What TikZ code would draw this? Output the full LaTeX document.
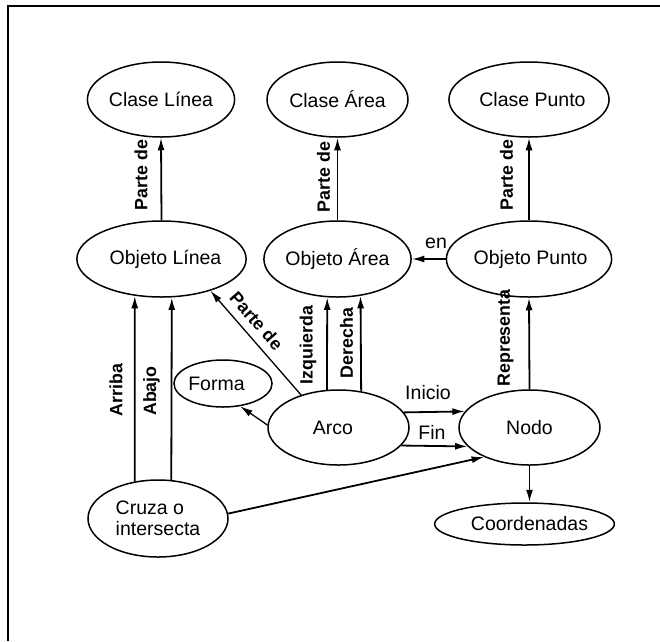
\documentclass[tikz,border=0pt]{standalone}
\usepackage{fontspec}
\setmainfont{Liberation Sans}
\usetikzlibrary{shapes.geometric,arrows.meta}

\begin{document}
\begin{tikzpicture}[x=1pt,y=-1pt,
  ell/.style={ellipse,draw,line width=1.5pt,inner sep=0pt,
    font=\fontsize{19.5}{20.5}\selectfont},
  arr/.style={line width=1.8pt,-{Latex[length=12.5pt,width=7pt]}},
  thinarr/.style={line width=1.3pt,-{Latex[length=12.5pt,width=7pt]}},
  rlab/.style={font=\bfseries\fontsize{17.8}{18}\selectfont,inner sep=0pt},
  nlab/.style={font=\fontsize{19.5}{20.5}\selectfont,inner sep=0pt}]

\useasboundingbox (0,0) rectangle (660,641);

% frame
\draw[line width=2pt] (660,6.3) -- (8.3,6.3) -- (8.3,641);

% concept nodes
\node[ell,minimum width=142,minimum height=75] (clinea) at (161,99.5) {Clase Línea};
\node[ell,minimum width=141,minimum height=76] (olinea) at (161.5,259) {\hspace*{8pt}Objeto Línea};
\node[ell,minimum width=141,minimum height=75] (carea)  at (337.5,99.5) {Clase Área};
\node[ell,minimum width=141,minimum height=76] (oarea)  at (337.5,259) {Objeto Área};
\node[ell,minimum width=142,minimum height=75] (cpunto) at (529,99.5) {\hspace*{7pt}Clase Punto};
\node[ell,minimum width=142,minimum height=76] (opunto) at (529,259) {\hspace*{3pt}Objeto Punto};
\node[ell,minimum width=96,minimum height=47]  (forma)  at (223,383.5) {Forma\hspace*{13pt}};
\node[ell,minimum width=141,minimum height=75] (arco)   at (338.5,427.5) {Arco\hspace*{11pt}};
\node[ell,minimum width=141,minimum height=75] (nodo)   at (529.5,427.5) {Nodo};
\node[ell,minimum width=133,minimum height=42] (coord)  at (524.5,524) {\hspace*{10pt}Coordenadas};
\node[ell,minimum width=140,minimum height=77,align=left] (cruza) at (158,518.5) {Cruza o\\intersecta};

% connectors
\draw[arr] (olinea.north) -- (clinea.south);
\draw[arr] (oarea.north) -- (carea.south);
\draw[arr] (opunto.north) -- (cpunto.south);
\draw[arr] (opunto.west) -- (oarea.east);
\draw[arr] (nodo.north) -- (opunto.south);
\draw[arr] (nodo.south) -- (nodo.south |- coord.north);
\draw[arr] (arco.107.3) -- (oarea.-105.6);
\draw[arr] (arco.58.9) -- (oarea.-58);
\draw[arr] (arco.13.6) -- (nodo.166.4);
\draw[arr] (arco.-16.8) -- (nodo.-163.2);
\draw[thinarr] (arco.139.8) -- (olinea.-33.7);
\draw[thinarr] (arco.178) -- (forma.-53.5);
\draw[arr] (cruza.122) -- (olinea.-126.3);
\draw[arr] (cruza.71) -- (olinea.-75.8);
\draw[arr] (cruza.4.5) -- (nodo.-147.6);

% connector labels
\node[rlab,rotate=90] (lpl) at (141,175) {Parte de};
\node[rlab,rotate=90] (lpa) at (323.5,177) {Parte de};
\node[rlab,rotate=90] (lpp) at (506.5,175) {Parte de};
\node[rlab,rotate=-48.8] (lpd) at (256.5,321) {Parte de};
\node[rlab,rotate=90] (liz) at (308,345) {Izquierda};
\node[rlab,rotate=90] (lde) at (346.5,343) {Derecha};
\node[rlab,rotate=90] (lre) at (505.5,338) {Representa};
\node[rlab,rotate=90] (lar) at (116,390) {Arriba};
\node[rlab,rotate=90] (lab) at (151.5,391) {Abajo};
\node[nlab] (lin) at (428,393) {Inicio};
\node[nlab] (lfi) at (432,432) {Fin};
\node[nlab] (len) at (436,243) {en};

\end{tikzpicture}
\end{document}
